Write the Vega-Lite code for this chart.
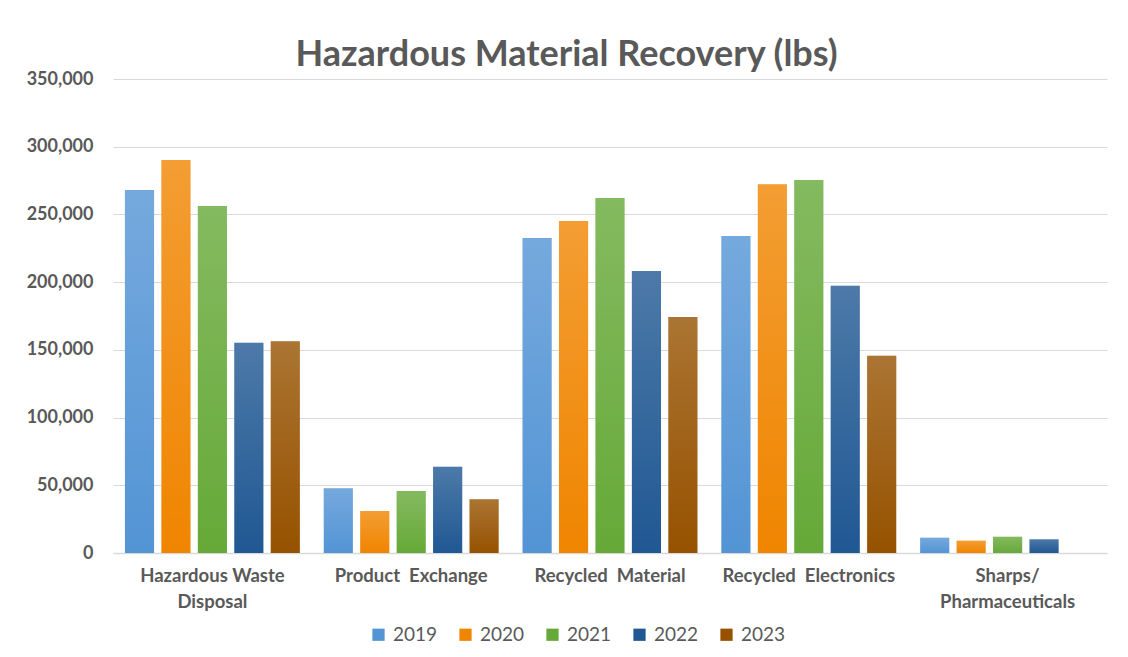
{
  "$schema": "https://vega.github.io/schema/vega-lite/v6.json",
  "width": 994,
  "height": 474,
  "autosize": {"type": "none"},
  "padding": {"left": 113, "top": 79, "right": 21, "bottom": 104},
  "background": "white",
  "title": {
    "text": "Hazardous Material Recovery (lbs)",
    "frame": "bounds",
    "anchor": "middle",
    "font": "Lato",
    "fontSize": 36,
    "fontWeight": "bold",
    "color": "#595959",
    "offset": -4
  },
  "data": {
    "values": [
      {"category": "Hazardous Waste Disposal", "year": "2019", "lbs": 268000},
      {"category": "Hazardous Waste Disposal", "year": "2020", "lbs": 290200},
      {"category": "Hazardous Waste Disposal", "year": "2021", "lbs": 256300},
      {"category": "Hazardous Waste Disposal", "year": "2022", "lbs": 155200},
      {"category": "Hazardous Waste Disposal", "year": "2023", "lbs": 156300},
      {"category": "Product  Exchange", "year": "2019", "lbs": 47800},
      {"category": "Product  Exchange", "year": "2020", "lbs": 31000},
      {"category": "Product  Exchange", "year": "2021", "lbs": 45800},
      {"category": "Product  Exchange", "year": "2022", "lbs": 63700},
      {"category": "Product  Exchange", "year": "2023", "lbs": 39600},
      {"category": "Recycled  Material", "year": "2019", "lbs": 232600},
      {"category": "Recycled  Material", "year": "2020", "lbs": 245100},
      {"category": "Recycled  Material", "year": "2021", "lbs": 262100},
      {"category": "Recycled  Material", "year": "2022", "lbs": 208200},
      {"category": "Recycled  Material", "year": "2023", "lbs": 174300},
      {"category": "Recycled  Electronics", "year": "2019", "lbs": 234100},
      {"category": "Recycled  Electronics", "year": "2020", "lbs": 272200},
      {"category": "Recycled  Electronics", "year": "2021", "lbs": 275400},
      {"category": "Recycled  Electronics", "year": "2022", "lbs": 197400},
      {"category": "Recycled  Electronics", "year": "2023", "lbs": 145700},
      {"category": "Sharps/ Pharmaceuticals", "year": "2019", "lbs": 11300},
      {"category": "Sharps/ Pharmaceuticals", "year": "2020", "lbs": 9100},
      {"category": "Sharps/ Pharmaceuticals", "year": "2021", "lbs": 12000},
      {"category": "Sharps/ Pharmaceuticals", "year": "2022", "lbs": 10100}
    ]
  },
  "encoding": {
    "x": {
      "field": "category",
      "type": "nominal",
      "sort": null,
      "scale": {"paddingInner": 0.12, "paddingOuter": 0.06},
      "axis": {
        "title": null,
        "labelAngle": 0,
        "labelFont": "Lato",
        "labelFontSize": 18.5,
        "labelFontWeight": "bold",
        "labelColor": "#595959",
        "labelPadding": 13,
        "labelLineHeight": 26,
        "labelBaseline": "top",
        "ticks": false,
        "domainColor": "#d9d9d9",
        "domainWidth": 1.5,
        "labelExpr": "datum.label == 'Hazardous Waste Disposal' ? ['Hazardous Waste', 'Disposal'] : datum.label == 'Sharps/ Pharmaceuticals' ? ['Sharps/', 'Pharmaceuticals'] : replace(datum.label, '  ', ' \u00a0')"
      }
    },
    "xOffset": {
      "field": "year",
      "type": "nominal",
      "scale": {"domain": ["2019", "2020", "2021", "2022", "2023"], "paddingInner": 0.2}
    },
    "y": {
      "field": "lbs",
      "type": "quantitative",
      "scale": {"domain": [0, 350000], "nice": false},
      "axis": {
        "title": null,
        "values": [0, 50000, 100000, 150000, 200000, 250000, 300000, 350000],
        "format": ",d",
        "labelFont": "Lato",
        "labelFontSize": 18,
        "labelFontWeight": "bold",
        "labelColor": "#595959",
        "labelPadding": 20,
        "ticks": false,
        "domain": false,
        "gridColor": "#d9d9d9",
        "gridWidth": 1.2
      }
    }
  },
  "layer": [
    {
      "mark": {"type": "bar"},
      "encoding": {
        "color": {
          "field": "year",
          "type": "nominal",
          "scale": {
            "domain": ["2019", "2020", "2021", "2022", "2023"],
            "range": ["#5394d5", "#f08500", "#66a938", "#205893", "#965200"]
          },
          "legend": {
            "title": null,
            "orient": "none",
            "direction": "horizontal",
            "legendX": 256,
            "legendY": 546,
            "symbolType": "square",
            "symbolSize": 150,
            "symbolStrokeWidth": 0,
            "symbolOpacity": 1,
            "labelFont": "Lato",
            "labelFontSize": 19,
            "labelColor": "#595959",
            "labelOffset": 5,
            "columnPadding": 18
          }
        }
      }
    },
    {
      "mark": {
        "type": "bar",
        "color": {
          "gradient": "linear",
          "x1": 0, "y1": 0, "x2": 0, "y2": 1,
          "stops": [
            {"offset": 0, "color": "rgba(255,255,255,0.2)"},
            {"offset": 1, "color": "rgba(255,255,255,0)"}
          ]
        }
      },
      "encoding": {}
    }
  ],
  "config": {
    "view": {"stroke": null}
  }
}
